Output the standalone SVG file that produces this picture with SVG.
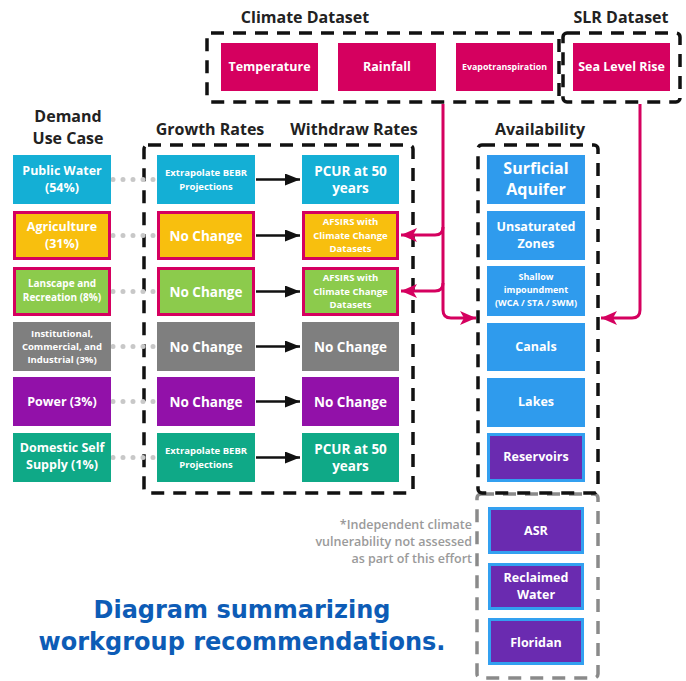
<svg xmlns="http://www.w3.org/2000/svg" width="686" height="681" viewBox="0 0 686 681">
<style>
.hd{font-family:"Open Sans","Noto Sans",sans-serif;font-weight:bold;font-size:16px;fill:#222;text-anchor:middle}
.t{font-family:"Open Sans","Noto Sans",sans-serif;font-weight:bold;fill:#fff;text-anchor:middle}
.dash{fill:none;stroke:#111;stroke-width:3.5;stroke-dasharray:13 9}
.gdash{fill:none;stroke:#8a8a8a;stroke-width:3.5;stroke-dasharray:13 9}
.dot{fill:none;stroke:#c8c8c8;stroke-width:5;stroke-linecap:round;stroke-dasharray:0 10}
.arr{fill:none;stroke:#111;stroke-width:2.5}
.mag{fill:none;stroke:#d5005f;stroke-width:3}
.cy{fill:#14afd5}.ye{fill:#f8bf0e}.gr{fill:#8ccb4c}.gy{fill:#7f7f7f}.pu{fill:#9211a9}.te{fill:#0fa987}.bl{fill:#2f9bed}.mg{fill:#d5005f}
.mb{stroke:#d5005f;stroke-width:3}
.rs{fill:#6a2bb0;stroke:#33a0f0;stroke-width:3}
.note{font-family:"Open Sans","Noto Sans",sans-serif;font-weight:600;font-size:12.5px;fill:#9a9a9a;text-anchor:end}
.title{font-family:"DejaVu Sans",Verdana,sans-serif;font-weight:bold;font-size:24px;fill:#0d5cb6;text-anchor:middle}
</style>
<defs>
<marker id="ab" markerUnits="userSpaceOnUse" markerWidth="15" markerHeight="12" refX="15" refY="6" orient="auto"><path d="M0,0 L15,6 L0,12 z" fill="#111"/></marker>
<marker id="am" markerUnits="userSpaceOnUse" markerWidth="16" markerHeight="14" refX="16" refY="7" orient="auto"><path d="M0,0 L16,7 L0,14 L4,7 z" fill="#d5005f"/></marker>
</defs>
<rect width="686" height="681" fill="#fff"/>

<g id="headers">
<text class="hd" x="305" y="23">Climate Dataset</text>
<text class="hd" x="621" y="23">SLR Dataset</text>
<text class="hd" x="68" y="122">Demand</text>
<text class="hd" x="68" y="144">Use Case</text>
<text class="hd" x="210" y="135">Growth Rates</text>
<text class="hd" x="354" y="135">Withdraw Rates</text>
<text class="hd" x="540" y="135">Availability</text>
</g>

<g id="groups">
<rect class="dash" x="207" y="33" width="352" height="69" rx="4"/>
<rect class="dash" x="563" y="33" width="117" height="69" rx="4"/>
<rect class="dash" x="144" y="145" width="269" height="348" rx="4"/>
<rect class="gdash" x="477" y="494" width="121" height="184" rx="4"/>
<rect class="dash" x="478" y="145" width="120" height="348" rx="4"/>
</g>

<g id="connectors">
<path class="dot" d="M113,179.5 H156"/>
<path class="dot" d="M113,235.5 H156"/>
<path class="dot" d="M113,291.5 H156"/>
<path class="dot" d="M113,346.5 H156"/>
<path class="dot" d="M113,401.5 H156"/>
<path class="dot" d="M113,457.5 H156"/>
<path class="arr" d="M256,179.5 H300" marker-end="url(#ab)"/>
<path class="arr" d="M256,235.5 H300" marker-end="url(#ab)"/>
<path class="arr" d="M256,291.5 H300" marker-end="url(#ab)"/>
<path class="arr" d="M256,346.5 H300" marker-end="url(#ab)"/>
<path class="arr" d="M256,401.5 H300" marker-end="url(#ab)"/>
<path class="arr" d="M256,457.5 H300" marker-end="url(#ab)"/>
<path class="mag" d="M443,104 V310 Q443,318 451,318 H476" marker-end="url(#am)"/>
<path class="mag" d="M443,227 Q443,235 435,235 H401" marker-end="url(#am)"/>
<path class="mag" d="M443,283 Q443,291 435,291 H401" marker-end="url(#am)"/>
<path class="mag" d="M640,104 V310 Q640,318 632,318 H601" marker-end="url(#am)"/>
</g>

<g id="temperature"><rect class="mg" x="221" y="43" width="97" height="48"/><text class="t" x="269.5" y="71" font-size="12.5">Temperature</text></g>
<g id="rainfall"><rect class="mg" x="338" y="43" width="98" height="48"/><text class="t" x="387" y="71" font-size="12.5">Rainfall</text></g>
<g id="evapotranspiration"><rect class="mg" x="456" y="43" width="97" height="48"/><text class="t" x="504.5" y="70" font-size="8.8">Evapotranspiration</text></g>
<g id="sea-level-rise"><rect class="mg" x="573" y="43" width="97" height="48"/><text class="t" x="621.5" y="71" font-size="12.5">Sea Level Rise</text></g>

<g id="public-water"><rect class="cy" x="13" y="155" width="98" height="49"/><text class="t" font-size="12.5" x="62"><tspan x="62" y="175">Public Water</tspan><tspan x="62" y="192">(54%)</tspan></text></g>
<g id="agriculture"><rect class="ye mb" x="14.5" y="212.5" width="95" height="46"/><text class="t" font-size="12.5" x="62"><tspan x="62" y="231">Agriculture</tspan><tspan x="62" y="248">(31%)</tspan></text></g>
<g id="landscape"><rect class="gr mb" x="14.5" y="268.5" width="95" height="46"/><text class="t" font-size="10" x="62"><tspan x="62" y="287">Lanscape and</tspan><tspan x="62" y="301">Recreation (8%)</tspan></text></g>
<g id="institutional"><rect class="gy" x="13" y="322" width="98" height="49"/><text class="t" font-size="9.5" x="62"><tspan x="62" y="336.5">Institutional,</tspan><tspan x="62" y="349.5">Commercial, and</tspan><tspan x="62" y="362.5">Industrial (3%)</tspan></text></g>
<g id="power"><rect class="pu" x="13" y="377" width="98" height="49"/><text class="t" font-size="12.5" x="62" y="405.5">Power (3%)</text></g>
<g id="domestic"><rect class="te" x="13" y="433" width="98" height="49"/><text class="t" font-size="12.5" x="62"><tspan x="62" y="452">Domestic Self</tspan><tspan x="62" y="469">Supply (1%)</tspan></text></g>

<g id="growth-public"><rect class="cy" x="157" y="155" width="98" height="49"/><text class="t" font-size="9.5" x="206"><tspan x="206" y="176">Extrapolate BEBR</tspan><tspan x="206" y="190">Projections</tspan></text></g>
<g id="growth-agri"><rect class="ye mb" x="158.5" y="212.5" width="95" height="46"/><text class="t" font-size="13.5" x="206" y="240.5">No Change</text></g>
<g id="growth-land"><rect class="gr mb" x="158.5" y="268.5" width="95" height="46"/><text class="t" font-size="13.5" x="206" y="296.5">No Change</text></g>
<g id="growth-inst"><rect class="gy" x="157" y="322" width="98" height="49"/><text class="t" font-size="13.5" x="206" y="351.5">No Change</text></g>
<g id="growth-power"><rect class="pu" x="157" y="377" width="98" height="49"/><text class="t" font-size="13.5" x="206" y="406.5">No Change</text></g>
<g id="growth-domestic"><rect class="te" x="157" y="433" width="98" height="49"/><text class="t" font-size="9.5" x="206"><tspan x="206" y="454">Extrapolate BEBR</tspan><tspan x="206" y="468">Projections</tspan></text></g>

<g id="withdraw-public"><rect class="cy" x="302" y="155" width="97" height="49"/><text class="t" font-size="13.5" x="350.5"><tspan x="350.5" y="176">PCUR at 50</tspan><tspan x="350.5" y="193">years</tspan></text></g>
<g id="withdraw-agri"><rect class="ye mb" x="303.5" y="212.5" width="94" height="46"/><text class="t" font-size="9.5" x="350.5"><tspan x="350.5" y="224.5">AFSIRS with</tspan><tspan x="350.5" y="238.5">Climate Change</tspan><tspan x="350.5" y="251.5">Datasets</tspan></text></g>
<g id="withdraw-land"><rect class="gr mb" x="303.5" y="268.5" width="94" height="46"/><text class="t" font-size="9.5" x="350.5"><tspan x="350.5" y="280.5">AFSIRS with</tspan><tspan x="350.5" y="294.5">Climate Change</tspan><tspan x="350.5" y="307.5">Datasets</tspan></text></g>
<g id="withdraw-inst"><rect class="gy" x="302" y="322" width="97" height="49"/><text class="t" font-size="13.5" x="350.5" y="351.5">No Change</text></g>
<g id="withdraw-power"><rect class="pu" x="302" y="377" width="97" height="49"/><text class="t" font-size="13.5" x="350.5" y="406.5">No Change</text></g>
<g id="withdraw-domestic"><rect class="te" x="302" y="433" width="97" height="49"/><text class="t" font-size="13.5" x="350.5"><tspan x="350.5" y="454">PCUR at 50</tspan><tspan x="350.5" y="471">years</tspan></text></g>

<g id="surficial-aquifer"><rect class="bl" x="487" y="155" width="98" height="49"/><text class="t" font-size="16" x="536"><tspan x="536" y="174">Surficial</tspan><tspan x="536" y="195">Aquifer</tspan></text></g>
<g id="unsaturated-zones"><rect class="bl" x="487" y="211" width="98" height="49"/><text class="t" font-size="12.5" x="536"><tspan x="536" y="230.5">Unsaturated</tspan><tspan x="536" y="247.5">Zones</tspan></text></g>
<g id="shallow-impoundment"><rect class="bl" x="487" y="266" width="98" height="50"/><text class="t" font-size="9" x="536"><tspan x="536" y="280">Shallow</tspan><tspan x="536" y="293">impoundment</tspan><tspan x="536" y="306">(WCA / STA / SWM)</tspan></text></g>
<g id="canals"><rect class="bl" x="487" y="323" width="98" height="48"/><text class="t" font-size="12.5" x="536" y="350.5">Canals</text></g>
<g id="lakes"><rect class="bl" x="487" y="378" width="98" height="49"/><text class="t" font-size="12.5" x="536" y="405.5">Lakes</text></g>
<g id="reservoirs"><rect class="rs" x="488.5" y="434.5" width="95" height="46"/><text class="t" font-size="12.5" x="536" y="461">Reservoirs</text></g>

<g id="asr"><rect class="rs" x="489.5" y="508.5" width="93" height="44"/><text class="t" font-size="12.5" x="536" y="534.5">ASR</text></g>
<g id="reclaimed-water"><rect class="rs" x="489.5" y="564.5" width="93" height="44"/><text class="t" font-size="12.5" x="536"><tspan x="536" y="582">Reclaimed</tspan><tspan x="536" y="599">Water</tspan></text></g>
<g id="floridan"><rect class="rs" x="489.5" y="619.5" width="93" height="44"/><text class="t" font-size="12.5" x="536" y="646.5">Floridan</text></g>

<g id="note">
<text class="note" x="472" y="529">*Independent climate</text>
<text class="note" x="472" y="546">vulnerability not assessed</text>
<text class="note" x="472" y="563">as part of this effort</text>
</g>
<g id="caption">
<text class="title" x="242" y="618">Diagram summarizing</text>
<text class="title" x="242" y="650">workgroup recommendations.</text>
</g>
</svg>
